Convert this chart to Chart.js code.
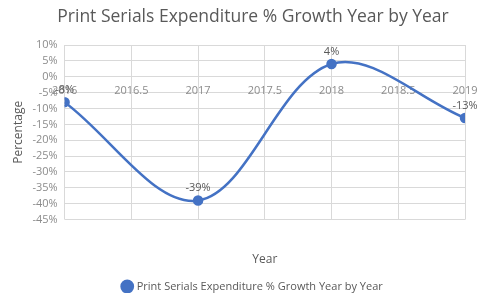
<!DOCTYPE html>
<html>
<head>
<meta charset="utf-8">
<script src="https://cdn.jsdelivr.net/npm/chart.js@4"></script>
<style>
  html, body { margin: 0; padding: 0; background: #fff; }
  #wrap { width: 487px; height: 293px; }
</style>
</head>
<body>
<div id="wrap"><canvas id="ex_chart"></canvas></div>
<script>
// data
const years = [2016, 2017, 2018, 2019];
const growth = [-8, -39, 4, -13];
const growthLabels = ['-8%', '-39%', '4%', '-13%'];
const seriesName = 'Print Serials Expenditure % Growth Year by Year';

const labelPlugin = {
    id: 'pointLabels',
    afterDatasetsDraw(chart) {
        const ctx = chart.ctx;
        const meta = chart.getDatasetMeta(0);
        ctx.save();
        ctx.font = '11px "Open Sans"';
        ctx.fillStyle = '#595959';
        ctx.textAlign = 'center';
        ctx.textBaseline = 'bottom';
        meta.data.forEach((pt, i) => {
            ctx.fillText(growthLabels[i], pt.x, pt.y - 7);
        });
        ctx.restore();
    }
};

// keep the right overhang small so the plot reaches near the edge
const trimRight = scale => { scale.paddingRight = 22; };

const ctx = document.getElementById('ex_chart');
new Chart(ctx, {
    type: 'line',
    data: {
        datasets: [{
            label: seriesName,
            data: years.map((y, i) => ({ x: y, y: growth[i] })),
            borderColor: '#4472C4',
            backgroundColor: '#4472C4',
            borderWidth: 2.5,
            pointRadius: 4,
            pointStyle: 'circle',
            tension: 0.35
        }]
    },
    options: {
        responsive: true,
        maintainAspectRatio: false,
        animation: false,
        layout: { padding: { left: 11, right: -8, top: 7, bottom: -9 } },
        plugins: {
            title: {
                display: true,
                text: seriesName,
                color: '#595959',
                font: { family: '"Open Sans"', size: 17.5, weight: 'normal' },
                padding: { top: 0, bottom: 17 }
            },
            legend: {
                position: 'bottom',
                labels: {
                    usePointStyle: true,
                    pointStyle: 'circle',
                    boxWidth: 8,
                    boxHeight: 8,
                    color: '#595959',
                    font: { family: '"Open Sans"', size: 11 },
                    padding: 2
                }
            },
            tooltip: { enabled: false }
        },
        scales: {
            x: {
                type: 'linear',
                position: { y: 0 },
                min: 2016,
                max: 2019,
                afterFit: trimRight,
                ticks: {
                    stepSize: 0.5,
                    color: '#8c8c8c',
                    font: { family: '"Open Sans"', size: 11 },
                    maxRotation: 0,
                    autoSkip: false,
                    padding: 8,
                    callback: v => String(v)
                },
                grid: { color: '#d9d9d9', drawTicks: false },
                border: { color: '#d9d9d9' }
            },
            x2: {
                type: 'linear',
                position: 'bottom',
                min: 2016,
                max: 2019,
                afterFit: trimRight,
                ticks: { display: false },
                grid: { display: false, drawTicks: false },
                border: { display: false },
                title: {
                    display: true,
                    text: 'Year',
                    color: '#595959',
                    font: { family: '"Open Sans"', size: 12 },
                    padding: { top: 33, bottom: 12 }
                }
            },
            y: {
                min: -45,
                max: 10,
                ticks: {
                    stepSize: 5,
                    color: '#8c8c8c',
                    font: { family: '"Open Sans"', size: 11 },
                    autoSkip: false,
                    callback: v => v + '%',
                    padding: 7
                },
                grid: { color: '#d9d9d9', drawTicks: false },
                border: { display: false },
                title: {
                    display: true,
                    text: 'Percentage',
                    color: '#595959',
                    font: { family: '"Open Sans"', size: 12 },
                    padding: 0
                }
            }
        }
    },
    plugins: [labelPlugin]
});
</script>
</body>
</html>
